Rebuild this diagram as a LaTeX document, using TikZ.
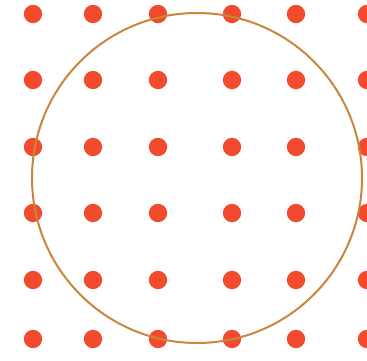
\documentclass[tikz,border=0pt]{standalone}
\definecolor{dotred}{HTML}{F24A2C}
\definecolor{ringbrown}{HTML}{C9853C}
\begin{document}
\begin{tikzpicture}[
    x=0.03cm, y=-0.03cm,
    dot/.style={circle, fill=dotred, inner sep=0pt, minimum size=0.55cm, outer sep=0pt},
    ring/.style={draw=ringbrown, line width=1.7pt}
]
    \useasboundingbox (0,0) rectangle (367,360);

    % --- Dot grid (slightly uneven spacing) ---
    \foreach \yy [count=\r] in {14,80,147,213,280,339} {
        \foreach \xx [count=\c] in {33,93,158,232,296,367} {
            \node[dot] (d\r\c) at (\xx,\yy) {};
        }
    }

    % --- Circle ---
    \coordinate (O) at (197,178);
    \draw[ring] (O) circle[radius=165];

\end{tikzpicture}
\end{document}
